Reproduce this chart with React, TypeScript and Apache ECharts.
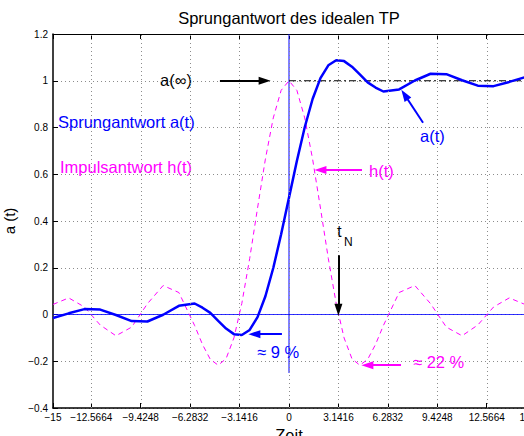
import React, { useEffect, useRef } from "react";
import * as echarts from "echarts";

// Sprungantwort a(t) samples
const tA = [-15, -14, -13, -12, -11, -10, -9, -8, -7, -6, -5.5, -5, -4.5, -4, -3.5, -3, -2.5, -2, -1.5, -1, -0.5, 0, 0.5, 1, 1.5, 2, 2.5, 3, 3.5, 4, 4.5, 5, 5.5, 6, 7, 8, 9, 10, 11, 12, 13, 14, 15];
const aVals = [-0.015, 0.005, 0.023, 0.021, -0.002, -0.028, -0.03, -0.001, 0.037, 0.047, 0.029, 0.007, -0.027, -0.06, -0.084, -0.088, -0.066, -0.011, 0.078, 0.199, 0.343, 0.5, 0.657, 0.801, 0.922, 1.011, 1.066, 1.088, 1.084, 1.06, 1.027, 0.993, 0.971, 0.954, 0.963, 1.001, 1.03, 1.028, 1.002, 0.979, 0.977, 0.995, 1.015];

// Impulsantwort h(t) samples
const tH = [-15, -14, -13, -12, -11, -10, -9, -8, -7, -6, -5.5, -5, -4.5, -4, -3.5, -3, -2.5, -2, -1.5, -1, -0.5, 0, 0.5, 1, 1.5, 2, 2.5, 3, 3.5, 4, 4.5, 5, 5.5, 6, 7, 8, 9, 10, 11, 12, 13, 14, 15];
const hVals = [0.043, 0.071, 0.032, -0.045, -0.091, -0.054, 0.046, 0.124, 0.094, -0.047, -0.128, -0.192, -0.217, -0.189, -0.1, 0.047, 0.239, 0.455, 0.665, 0.841, 0.959, 1, 0.959, 0.841, 0.665, 0.455, 0.239, 0.047, -0.1, -0.189, -0.217, -0.192, -0.128, -0.047, 0.094, 0.124, 0.046, -0.054, -0.091, -0.045, 0.032, 0.071, 0.043];

// axis ticks
const xTickValues = [-15, -12.5664, -9.4248, -6.2832, -3.1416, 0, 3.1416, 6.2832, 9.4248, 12.5664, 15];
const xTickLabels = ["−15", "−12.5664", "−9.4248", "−6.2832", "−3.1416", "0", "3.1416", "6.2832", "9.4248", "12.5664", "15"];
const xGridValues = [-12.5664, -9.4248, -6.2832, -3.1416, 0, 3.1416, 6.2832, 9.4248, 12.5664];
const X_MIN = -15;
const X_MAX = 15;
const Y_MIN = -0.4;
const Y_MAX = 1.2;
const Y_STEP = 0.2;

// reference lines
const zeroLine = [[-15, 0], [15, 0]];
const tZeroLine = [[0, -0.25], [0, 1.2]];
const finalValueLine = [[0, 1], [15, 1]];

// annotation arrows [from, to] in data coordinates
const arrowAInf = [[-4.39, 1], [-1.55, 1]];
const arrowOvershoot = [[-0.45, -0.084], [-2.2, -0.084]];
const arrowH = [[4.64, 0.618], [2.0, 0.618]];
const arrowA = [[8.52, 0.82], [7.35, 0.94]];
const arrowTN = [[3.1416, 0.254], [3.1416, 0.02]];
const arrow22 = [[7.12, -0.217], [4.98, -0.217]];

const FONT = "'Liberation Sans', Arial, Helvetica, sans-serif";
const BLUE = "#0000ff";
const MAGENTA = "#ff00ff";

const pairs = (xs: number[], ys: number[]) => xs.map((x, i) => [x, ys[i]]);
const fmtLabel = (v: number) => {
  const i = xTickValues.findIndex((x) => Math.abs(x - v) < 1e-6);
  return i >= 0 ? xTickLabels[i] : "";
};

const arrowItem = (a: number[][], color: string) => [
  { coord: a[0], lineStyle: { color, width: 2, type: "solid" }, symbol: "none", itemStyle: { color } },
  { coord: a[1], symbol: "triangle", itemStyle: { color } },
];

const txt = (text: string, x: number, y: number, fill: string, size = 16.5) => ({
  type: "text",
  x,
  y,
  silent: true,
  style: {
    text,
    fill,
    font: `${size}px ${FONT}`,
    textAlign: "left",
    textVerticalAlign: "middle",
    align: "left",
    verticalAlign: "middle",
  },
});

export default function App() {
  const ref = useRef<HTMLDivElement>(null);
  useEffect(() => {
    if (!ref.current) return;
    const chart = echarts.init(ref.current, undefined, { renderer: "svg" });
    chart.setOption({
      animation: false,
      backgroundColor: "#ffffff",
      title: {
        text: "Sprungantwort des idealen TP",
        left: 289,
        top: 9,
        textAlign: "center",
        padding: 0,
        textStyle: { fontFamily: FONT, fontSize: 16.5, fontWeight: "normal", color: "#000" },
      },
      grid: { left: 53, top: 34, width: 472, height: 374, containLabel: false, outerBoundsMode: "none" },
      xAxis: [
        {
          type: "value",
          min: X_MIN,
          max: X_MAX,
          name: "Zeit",
          nameLocation: "middle",
          nameGap: 12,
          nameTextStyle: { fontFamily: FONT, fontSize: 16.5, color: "#000", verticalAlign: "top" },
          axisLine: { show: true, onZero: false, lineStyle: { color: "#000", width: 1.5 } },
          axisTick: { show: true, inside: true, length: 5, customValues: xTickValues, lineStyle: { color: "#000" } },
          axisLabel: {
            show: true,
            customValues: xTickValues,
            formatter: fmtLabel,
            margin: 4,
            fontFamily: FONT,
            fontSize: 10,
            color: "#000",
          },
          splitLine: { show: false },
        },
        {
          type: "value",
          position: "top",
          min: X_MIN,
          max: X_MAX,
          axisLine: { show: true, onZero: false, lineStyle: { color: "#000", width: 1 } },
          axisTick: { show: true, inside: true, length: 5, customValues: xTickValues, lineStyle: { color: "#000" } },
          axisLabel: { show: false },
          splitLine: { show: false },
        },
      ],
      yAxis: {
        type: "value",
        min: Y_MIN,
        max: Y_MAX,
        interval: Y_STEP,
        name: "a (t)",
        nameLocation: "middle",
        nameGap: 27,
        nameRotate: 90,
        nameTextStyle: { fontFamily: FONT, fontSize: 15, color: "#000" },
        axisLine: { show: true, onZero: false, lineStyle: { color: "#000", width: 1.5 } },
        axisTick: { show: true, inside: true, length: 5, lineStyle: { color: "#000" } },
        axisLabel: {
          margin: 5,
          fontFamily: FONT,
          fontSize: 10,
          color: "#000",
          formatter: (v: number) => String(Math.round(v * 10) / 10).replace("-", "−"),
        },
        splitLine: { show: true, lineStyle: { color: "#8c8c8c", width: 1, type: [1, 3] } },
      },
      series: [
        {
          name: "grid",
          type: "line",
          data: [],
          silent: true,
          z: 1,
          markLine: {
            silent: true,
            symbol: ["none", "none"],
            label: { show: false },
            lineStyle: { color: "#8c8c8c", width: 1, type: [1, 3] },
            data: xGridValues.map((v) => ({ xAxis: v })),
          },
        },
        {
          name: "zero",
          type: "line",
          data: zeroLine,
          showSymbol: false,
          silent: true,
          lineStyle: { color: BLUE, width: 1.2, opacity: 0.8 },
          z: 2,
        },
        {
          name: "t0",
          type: "line",
          data: tZeroLine,
          showSymbol: false,
          silent: true,
          lineStyle: { color: BLUE, width: 1 },
          z: 2,
        },
        {
          name: "final",
          type: "line",
          data: finalValueLine,
          showSymbol: false,
          silent: true,
          lineStyle: { color: "#000", width: 1, type: [7, 3, 2, 3] },
          z: 2,
        },
        {
          name: "h(t)",
          type: "line",
          data: pairs(tH, hVals),
          showSymbol: false,
          silent: true,
          lineStyle: { color: MAGENTA, width: 1, type: [5, 4] },
          z: 3,
        },
        {
          name: "a(t)",
          type: "line",
          data: pairs(tA, aVals),
          showSymbol: false,
          silent: true,
          lineStyle: { color: BLUE, width: 2.5 },
          z: 4,
        },
        {
          name: "arrows",
          type: "line",
          data: [],
          silent: true,
          z: 5,
          markLine: {
            silent: true,
            symbol: ["none", "triangle"],
            symbolSize: [8, 12],
            label: { show: false },
            data: [
              arrowItem(arrowAInf, "#000"),
              arrowItem(arrowOvershoot, BLUE),
              arrowItem(arrowH, MAGENTA),
              arrowItem(arrowA, BLUE),
              arrowItem(arrowTN, "#000"),
              arrowItem(arrow22, MAGENTA),
            ],
          },
        },
      ],
      graphic: [
        txt("a(∞)", 160, 80, "#000"),
        txt("Sprungantwort a(t)", 58, 122, BLUE),
        txt("Impulsantwort h(t)", 60, 167, MAGENTA),
        txt("h(t)", 369, 171, MAGENTA),
        txt("a(t)", 420, 136, BLUE),
        txt("t", 337, 231, "#000"),
        txt("N", 344, 242, "#000", 12),
        txt("≈ 9 %", 257, 352, BLUE),
        txt("≈ 22 %", 413, 362, MAGENTA),
      ],
    });
    return () => chart.dispose();
  }, []);
  return (
    <div
      ref={ref}
      style={{ position: "absolute", left: 0, top: 0, width: 524, height: 436 }}
    />
  );
}
